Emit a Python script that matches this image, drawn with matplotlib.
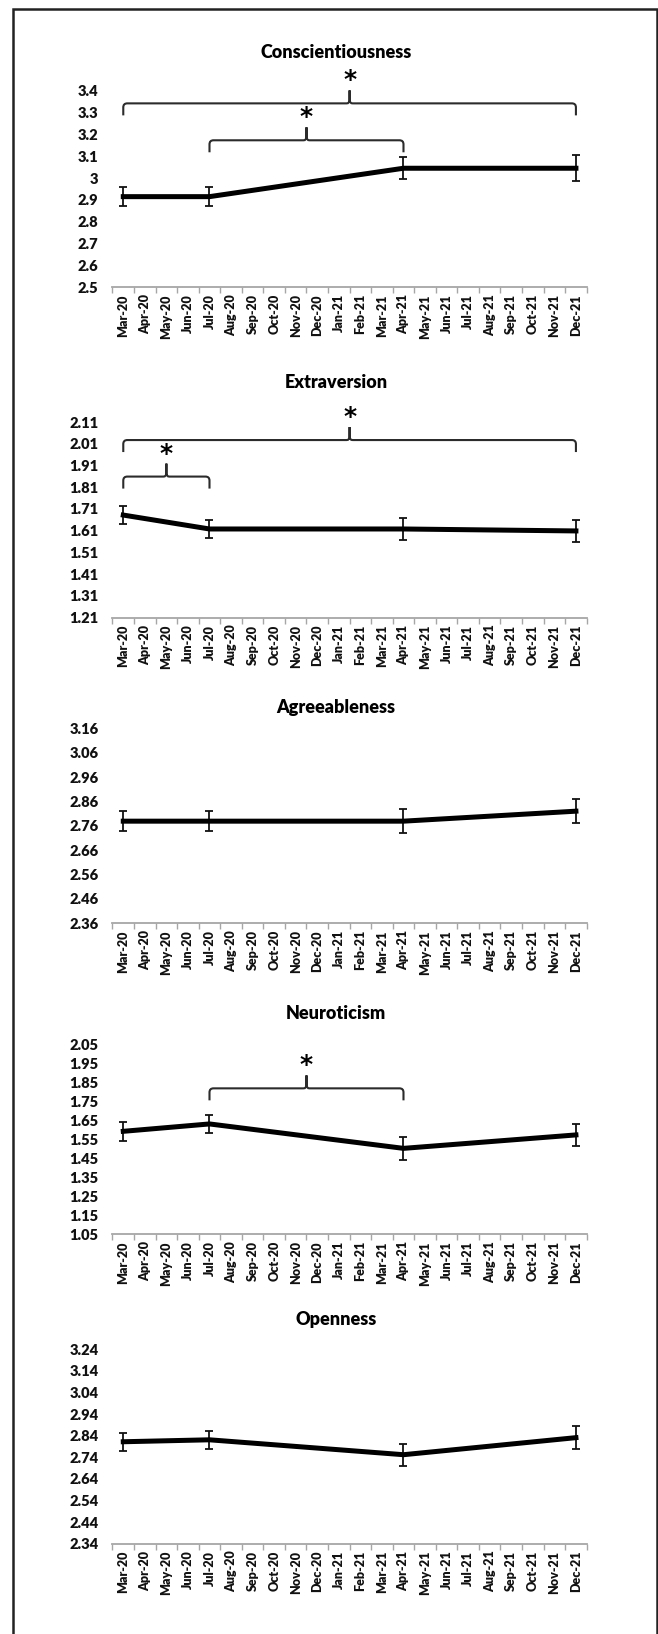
import matplotlib.pyplot as plt
import numpy as np
from matplotlib.path import Path
from matplotlib.patches import PathPatch, Rectangle

plt.rcParams['font.family'] = ['Lato', 'DejaVu Sans']
plt.rcParams['font.weight'] = 'heavy'

# Month axis (category axis, one slot per month)
months = ['Mar-20', 'Apr-20', 'May-20', 'Jun-20', 'Jul-20', 'Aug-20', 'Sep-20', 'Oct-20',
          'Nov-20', 'Dec-20', 'Jan-21', 'Feb-21', 'Mar-21', 'Apr-21', 'May-21', 'Jun-21',
          'Jul-21', 'Aug-21', 'Sep-21', 'Oct-21', 'Nov-21', 'Dec-21']
waves = ['Mar-20', 'Jul-20', 'Apr-21', 'Dec-21']

traits = ['Conscientiousness', 'Extraversion', 'Agreeableness', 'Neuroticism', 'Openness']

# Means and error bars per wave
consc_mean = [2.915, 2.915, 3.045, 3.045]
consc_err = [0.042, 0.042, 0.05, 0.06]
extra_mean = [1.682, 1.618, 1.618, 1.609]
extra_err = [0.04, 0.04, 0.05, 0.05]
agree_mean = [2.779, 2.779, 2.779, 2.82]
agree_err = [0.04, 0.04, 0.05, 0.05]
neuro_mean = [1.594, 1.633, 1.504, 1.575]
neuro_err = [0.05, 0.047, 0.06, 0.058]
open_mean = [2.812, 2.821, 2.752, 2.831]
open_err = [0.041, 0.042, 0.05, 0.052]

# y axis ranges (min, max), ticks every 0.1
consc_range = (2.5, 3.4)
extra_range = (1.21, 2.11)
agree_range = (2.36, 3.16)
neuro_range = (1.05, 2.05)
open_range = (2.34, 3.24)

# significance brackets: (from wave, to wave, height)
consc_brackets = [('Mar-20', 'Dec-21', 3.342), ('Jul-20', 'Apr-21', 3.173)]
extra_brackets = [('Mar-20', 'Dec-21', 2.027), ('Mar-20', 'Jul-20', 1.859)]
agree_brackets = []
neuro_brackets = [('Jul-20', 'Apr-21', 1.821)]
open_brackets = []

means = [consc_mean, extra_mean, agree_mean, neuro_mean, open_mean]
errs = [consc_err, extra_err, agree_err, neuro_err, open_err]
ranges = [consc_range, extra_range, agree_range, neuro_range, open_range]
brackets = [consc_brackets, extra_brackets, agree_brackets, neuro_brackets, open_brackets]

# layout in pixels (figure is 658 x 1634 at dpi 100)
W, H = 658, 1634
ax_left, ax_right = 112.5, 586.7
panel_tops = [90.7, 422, 728.3, 1045, 1349.3]
panel_bottoms = [287.3, 617.7, 923.3, 1234.3, 1543.7]
title_y = [53, 383, 707, 1013, 1320]
title_x = 336

fig = plt.figure(figsize=(W / 100, H / 100), dpi=100)

# outer frame (open at the bottom)
fig.add_artist(Rectangle((12.5 / W, -0.05), (657 - 12.5) / W, 1.05 - 8.5 / H,
                         transform=fig.transFigure, fill=False, edgecolor='#222222', lw=1.8))


def draw_brace(ax, x0, x1, y, w_px, h_px):
    ylo, yhi = ax.get_ylim()
    py = (yhi - ylo) / h_px
    px = len(months) / w_px
    drop, r, tip, rt = 12, 4, 13, 3
    xm = (x0 + x1) / 2
    verts = [(x0, y - drop * py), (x0, y - r * py), (x0, y), (x0 + r * px, y),
             (xm - rt * px, y), (xm, y), (xm, y + rt * py), (xm, y + tip * py),
             (xm, y + rt * py), (xm, y), (xm + rt * px, y),
             (x1 - r * px, y), (x1, y), (x1, y - r * py), (x1, y - drop * py)]
    codes = [Path.MOVETO, Path.LINETO, Path.CURVE3, Path.CURVE3,
             Path.LINETO, Path.CURVE3, Path.CURVE3, Path.LINETO,
             Path.LINETO, Path.CURVE3, Path.CURVE3,
             Path.LINETO, Path.CURVE3, Path.CURVE3, Path.LINETO]
    ax.add_patch(PathPatch(Path(verts, codes), fill=False, edgecolor='#2b2b2b',
                           lw=1.5, clip_on=False))
    ax.annotate('*', xy=(xm, y), xytext=(0, 16.5), textcoords='offset points',
                ha='center', va='center', fontsize=18, fontweight='bold',
                family='DejaVu Sans', color='black')


for i, trait in enumerate(traits):
    top, bot = panel_tops[i], panel_bottoms[i]
    ax = fig.add_axes([ax_left / W, 1 - bot / H, (ax_right - ax_left) / W, (bot - top) / H])
    lo, hi = ranges[i]

    x = [months.index(w) + 0.5 for w in waves]
    ax.errorbar(x, means[i], yerr=errs[i], color='black', lw=3.6,
                elinewidth=1.3, capsize=2.6, capthick=1.3, ecolor='#111111')

    ax.set_xlim(0, len(months))
    ax.set_ylim(lo, hi)
    yt = np.round(np.arange(lo, hi + 0.001, 0.1), 2)
    ax.set_yticks(yt)
    ax.set_yticklabels([f'{v:g}' for v in yt])
    ax.tick_params(axis='y', length=0, pad=10, labelsize=10.5, labelcolor='#111111')

    # ticks between months, labels in the middle of each month
    ax.set_xticks(np.arange(len(months) + 1))
    ax.set_xticklabels([])
    ax.set_xticks(np.arange(len(months)) + 0.5, minor=True)
    ax.set_xticklabels(months, minor=True, rotation=90, fontsize=9, color='#111111')
    ax.tick_params(axis='x', which='major', length=4, width=1, color='#a6a6a6', direction='out')
    ax.tick_params(axis='x', which='minor', length=0, pad=5)

    for s in ['left', 'right', 'top']:
        ax.spines[s].set_visible(False)
    ax.spines['bottom'].set_color('#a6a6a6')
    ax.spines['bottom'].set_linewidth(1.3)

    fig.text(title_x / W, 1 - title_y[i] / H, trait, ha='center', va='center',
             fontsize=13, fontweight='heavy', color='black')

    for a, b, lvl in brackets[i]:
        draw_brace(ax, months.index(a) + 0.5, months.index(b) + 0.5, lvl,
                   ax_right - ax_left, bot - top)

fig.savefig('out.png', dpi=100)
